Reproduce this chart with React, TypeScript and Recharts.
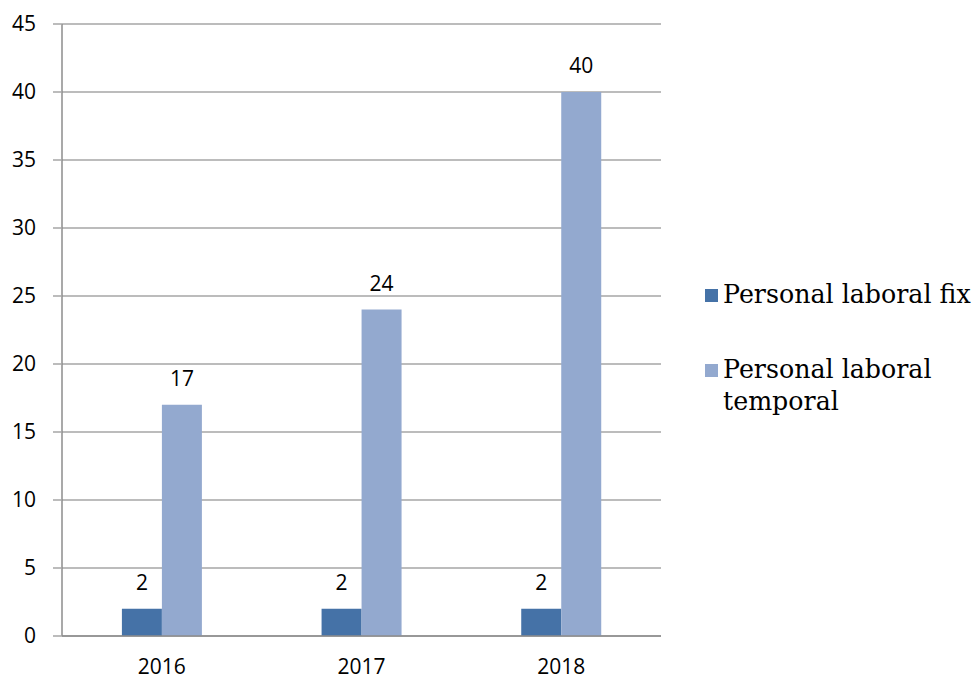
import React from 'react';
import { BarChart, Bar, XAxis, YAxis, CartesianGrid, LabelList } from 'recharts';

const years = ['2016', '2017', '2018'];
const fixValues = [2, 2, 2];
const temporalValues = [17, 24, 40];
const yTicks = [0, 5, 10, 15, 20, 25, 30, 35, 40, 45];

const seriesNames = ['Personal laboral fix', 'Personal laboral temporal'];
const seriesColors = ['#4572A7', '#93A9CF'];

const data = years.map((year, i) => ({
    year,
    fix: fixValues[i],
    temporal: temporalValues[i],
}));

const tickFont = { fontFamily: '"Open Sans", sans-serif', fontSize: 21, fill: '#000' };

// legend sits to the right of the plot, second label wraps like the original
function CustomLegend() {
    return (
        <div style={{ position: 'absolute', left: 705, top: 279, width: 300, fontFamily: '"DejaVu Serif", serif', fontSize: 25.3, color: '#000' }}>
            {seriesNames.map((name, i) => (
                <div key={name} style={{ display: 'flex', alignItems: 'flex-start', marginBottom: i === 0 ? 43 : 0 }}>
                    <span style={{ display: 'inline-block', width: 13, height: 13, background: seriesColors[i], marginTop: 10, marginRight: 5, flexShrink: 0 }} />
                    <span style={{ lineHeight: '32px', width: 250, whiteSpace: i === 0 ? 'nowrap' : 'normal' }}>{name}</span>
                </div>
            ))}
        </div>
    );
}

export default function App() {
    return (
        <div style={{ position: 'absolute', left: 0, top: 0, width: 977, height: 679, background: '#fff', overflow: 'hidden' }}>
            <BarChart
                width={977}
                height={679}
                data={data}
                margin={{ top: 24, right: 316, bottom: 0, left: 0 }}
                barCategoryGap="30%"
                barGap={0}
            >
                <CartesianGrid vertical={false} stroke="#a6a6a6" strokeWidth={1.5} />
                <XAxis
                    dataKey="year"
                    height={43}
                    tickLine={false}
                    axisLine={{ stroke: '#8c8c8c', strokeWidth: 1.5 }}
                    tick={tickFont}
                    tickMargin={17}
                />
                <YAxis
                    width={62}
                    domain={[0, 45]}
                    ticks={yTicks}
                    interval={0}
                    tickSize={9}
                    tickLine={{ stroke: '#a6a6a6', strokeWidth: 1.5 }}
                    axisLine={{ stroke: '#8c8c8c', strokeWidth: 1.5 }}
                    tick={tickFont}
                    tickMargin={17}
                />
                <Bar dataKey="fix" name={seriesNames[0]} fill={seriesColors[0]} isAnimationActive={false}>
                    <LabelList dataKey="fix" position="top" offset={19} style={tickFont} />
                </Bar>
                <Bar dataKey="temporal" name={seriesNames[1]} fill={seriesColors[1]} isAnimationActive={false}>
                    <LabelList dataKey="temporal" position="top" offset={19} style={tickFont} />
                </Bar>
            </BarChart>
            <CustomLegend />
        </div>
    );
}
